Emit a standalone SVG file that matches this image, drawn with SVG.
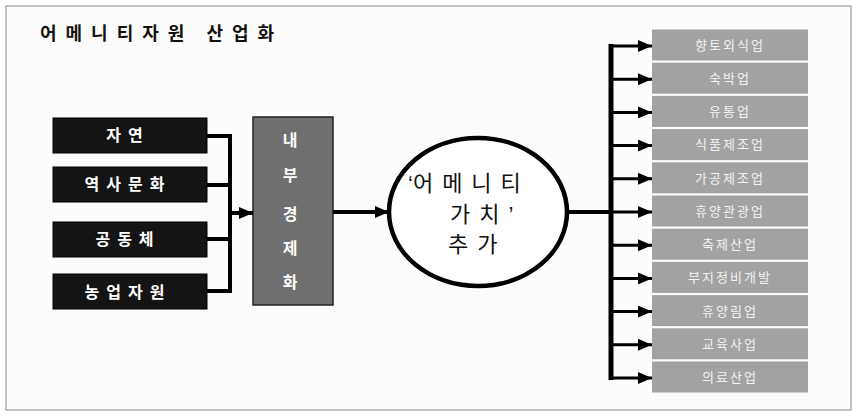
<svg xmlns="http://www.w3.org/2000/svg" width="858" height="416" viewBox="0 0 858 416">
<defs>
<style>
text{font-family:"Noto Sans CJK KR","Noto Sans",sans-serif;}
.title{font-size:18px;font-weight:bold;fill:#111;}
.src rect{fill:#141414;stroke:#000;stroke-width:1;}
.src text{font-size:16px;font-weight:bold;fill:#fff;text-anchor:middle;}
.mid rect{fill:#707070;stroke:#222;stroke-width:1.5;}
.mid text{font-size:16px;font-weight:bold;fill:#fff;text-anchor:middle;}
.out rect{fill:#a2a2a2;}
.out text{font-size:13px;fill:#f2f2f2;text-anchor:middle;letter-spacing:2px;}
.ell text{font-size:22px;fill:#111;}
.q{font-family:"Liberation Sans",sans-serif;}
.wire{fill:none;stroke:#000;stroke-width:4;}
.br{fill:none;stroke:#000;stroke-width:3;}
</style>
<marker id="ah" markerUnits="userSpaceOnUse" markerWidth="16" markerHeight="12" refX="14" refY="6" orient="auto">
<path d="M0,0 L14,6 L0,12 Z" fill="#000"/>
</marker>
</defs>
<rect x="0" y="0" width="858" height="416" fill="#fff"/>
<rect x="6" y="6" width="845" height="404" fill="#fcfcfc" stroke="#888" stroke-width="1"/>
<text class="title" x="40" y="40" letter-spacing="9">어메니티자원 산업화</text>

<g id="n-jayeon" class="src"><rect x="53" y="118" width="154" height="35"/><text x="128" y="141" letter-spacing="7">자연</text></g>
<g id="n-yeoksa" class="src"><rect x="53" y="167" width="154" height="35"/><text x="128" y="190" letter-spacing="7">역사문화</text></g>
<g id="n-gongdong" class="src"><rect x="53" y="222" width="154" height="35"/><text x="128" y="245" letter-spacing="7">공동체</text></g>
<g id="n-nongeop" class="src"><rect x="53" y="274" width="154" height="35"/><text x="128" y="298" letter-spacing="7">농업자원</text></g>

<g id="n-naebu" class="mid"><rect x="253" y="117" width="80" height="188"/>
<text x="290" y="146">내</text><text x="290" y="181">부</text><text x="290" y="220">경</text><text x="290" y="254">제</text><text x="290" y="288">화</text></g>

<g id="n-amenity" class="ell"><ellipse cx="478" cy="212" rx="89" ry="74" fill="#fff" stroke="#000" stroke-width="4.5"/>
<text x="408" y="191"><tspan class="q">‘</tspan><tspan letter-spacing="9">어메니티</tspan></text>
<text x="450" y="222"><tspan letter-spacing="9">가치</tspan><tspan class="q">’</tspan></text>
<text x="448" y="252" letter-spacing="9">추가</text></g>

<g id="outputs" class="out">
<g id="o1"><rect x="652" y="29.5" width="156" height="31"/><text x="730" y="50">향토외식업</text></g>
<g id="o2"><rect x="652" y="62.7" width="156" height="31"/><text x="730" y="83">숙박업</text></g>
<g id="o3"><rect x="652" y="95.9" width="156" height="31"/><text x="730" y="116">유통업</text></g>
<g id="o4"><rect x="652" y="129.1" width="156" height="31"/><text x="730" y="149">식품제조업</text></g>
<g id="o5"><rect x="652" y="162.3" width="156" height="31"/><text x="730" y="183">가공제조업</text></g>
<g id="o6"><rect x="652" y="195.5" width="156" height="31"/><text x="730" y="216">휴양관광업</text></g>
<g id="o7"><rect x="652" y="228.7" width="156" height="31"/><text x="730" y="249">축제산업</text></g>
<g id="o8"><rect x="652" y="261.9" width="156" height="31"/><text x="730" y="282">부지정비개발</text></g>
<g id="o9"><rect x="652" y="295.1" width="156" height="31"/><text x="730" y="316">휴양림업</text></g>
<g id="o10"><rect x="652" y="328.3" width="156" height="31"/><text x="730" y="349">교육사업</text></g>
<g id="o11"><rect x="652" y="361.5" width="156" height="31"/><text x="730" y="382">의료산업</text></g>
</g>

<g id="connectors">
<path class="wire" d="M207,136 H230 M207,185 H230 M207,239 H230 M207,291 H230 M230,134 V293"/>
<path class="wire" d="M230,213 H253" marker-end="url(#ah)"/>
<path class="wire" d="M333,212 H389" marker-end="url(#ah)"/>
<path class="wire" d="M567,212 H611"/>
<path d="M611,44 V380" stroke="#000" stroke-width="5" fill="none"/>
<path class="br" d="M611,46 H652" marker-end="url(#ah)"/>
<path class="br" d="M611,79.2 H652" marker-end="url(#ah)"/>
<path class="br" d="M611,112.4 H652" marker-end="url(#ah)"/>
<path class="br" d="M611,145.6 H652" marker-end="url(#ah)"/>
<path class="br" d="M611,178.8 H652" marker-end="url(#ah)"/>
<path class="br" d="M611,212 H652" marker-end="url(#ah)"/>
<path class="br" d="M611,245.2 H652" marker-end="url(#ah)"/>
<path class="br" d="M611,278.4 H652" marker-end="url(#ah)"/>
<path class="br" d="M611,311.6 H652" marker-end="url(#ah)"/>
<path class="br" d="M611,344.8 H652" marker-end="url(#ah)"/>
<path class="br" d="M611,378 H652" marker-end="url(#ah)"/>
</g>
</svg>
